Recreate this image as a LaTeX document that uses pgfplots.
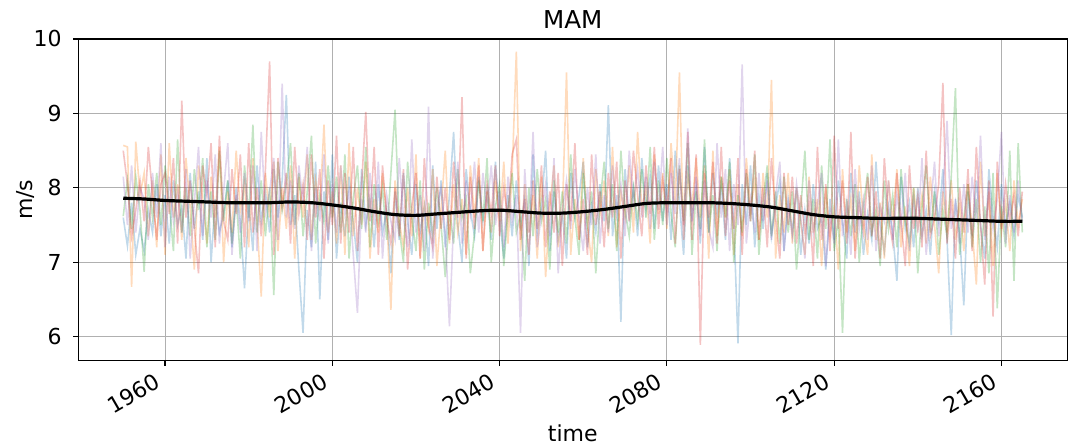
\documentclass[border=0pt]{standalone}
\usepackage{fontspec}
\setmainfont{DejaVu Sans}
\usepackage{pgfplots}
\usepackage{pgfplotstable}
\pgfplotsset{compat=1.18}

\definecolor{c0}{HTML}{1F77B4}
\definecolor{c1}{HTML}{FF7F0E}
\definecolor{c2}{HTML}{2CA02C}
\definecolor{c3}{HTML}{D62728}
\definecolor{c4}{HTML}{9467BD}
\definecolor{gridgray}{HTML}{B0B0B0}

% MAM mean wind speed (m/s) for five ensemble members
\pgfplotstableread{
year b o g r p
1950 7.60 8.57 7.62 8.50 8.15
1951 7.22 8.55 8.10 8.05 7.50
1952 7.80 6.67 7.45 7.35 8.30
1953 7.10 8.62 8.15 7.70 7.40
1954 7.45 7.90 7.70 8.10 8.00
1955 7.15 8.20 6.87 7.55 7.85
1956 7.70 7.35 8.05 8.55 7.30
1957 7.40 8.10 7.60 7.90 8.20
1958 8.05 7.20 8.20 7.30 7.60
1959 7.35 8.45 7.50 8.05 8.60
1960 7.90 7.10 8.30 8.20 7.20
1961 7.25 8.60 7.80 7.65 8.15
1962 8.10 7.60 7.15 8.40 7.55
1963 7.50 8.05 8.65 7.25 7.95
1964 7.75 7.30 7.40 9.17 7.40
1965 7.05 8.40 8.00 7.60 8.25
1966 8.20 7.75 7.35 8.10 7.05
1967 7.45 6.90 8.25 7.45 7.80
1968 7.95 8.30 7.70 6.85 8.55
1969 7.30 7.85 8.40 8.30 7.35
1970 8.40 7.25 7.20 7.90 8.10
1971 7.00 8.15 7.95 8.60 7.60
1972 7.85 7.60 7.30 7.20 8.45
1973 7.40 8.55 8.50 8.70 7.25
1974 7.65 7.00 7.55 7.55 7.95
1975 8.10 7.95 8.10 7.30 8.60
1976 7.20 7.40 7.25 8.25 7.10
1977 8.00 8.50 7.85 7.65 7.90
1978 7.55 7.70 7.05 8.45 7.40
1979 6.65 8.05 8.30 7.20 8.20
1980 7.80 7.20 7.60 8.60 7.55
1981 7.15 8.40 8.85 7.40 8.30
1982 8.30 7.55 7.40 8.00 7.15
1983 7.55 6.54 8.10 7.35 8.75
1984 7.95 8.20 7.35 8.25 7.65
1985 7.40 7.60 8.00 9.70 7.95
1986 8.25 8.35 6.56 7.10 8.40
1987 7.60 7.15 8.35 8.40 7.30
1988 8.10 8.00 7.70 7.75 9.40
1989 9.25 7.45 8.05 8.20 7.60
1990 7.50 8.30 8.60 7.25 8.10
1991 7.90 7.05 7.50 8.55 7.45
1992 6.90 8.15 8.20 7.65 8.30
1993 6.05 7.60 7.35 8.05 7.80
1994 7.70 8.45 7.95 7.30 8.55
1995 7.20 7.30 8.70 8.45 7.15
1996 8.35 8.10 7.25 7.60 8.00
1997 6.50 7.70 7.90 8.25 7.55
1998 7.95 8.85 7.55 7.05 8.45
1999 7.30 7.40 8.30 8.10 7.25
2000 8.45 7.95 7.60 7.50 8.05
2001 7.05 7.25 8.15 8.70 7.40
2002 7.80 8.30 7.40 7.25 8.30
2003 7.35 7.10 8.45 8.20 7.65
2004 8.15 8.60 7.05 7.40 7.95
2005 7.55 7.35 7.85 8.55 7.10
2006 7.00 8.00 8.30 7.15 6.32
2007 8.25 7.50 7.45 8.05 7.85
2008 7.50 8.35 8.55 9.02 7.40
2009 7.85 7.05 7.20 7.55 8.20
2010 7.20 7.85 8.05 8.55 7.50
2011 8.05 7.40 7.55 7.10 8.35
2012 7.40 8.20 8.00 8.30 7.05
2013 7.70 7.65 7.30 7.60 7.90
2014 6.85 6.36 8.20 7.25 7.55
2015 7.95 8.10 9.05 8.00 7.30
2016 7.30 7.55 7.45 7.35 8.40
2017 8.20 7.20 7.00 8.25 7.60
2018 7.55 8.00 8.35 6.90 7.20
2019 7.10 7.35 7.60 7.75 8.65
2020 8.05 8.45 7.15 8.20 7.40
2021 7.40 7.05 8.10 7.05 7.90
2022 7.75 7.80 6.90 8.40 7.15
2023 6.95 7.45 7.80 7.50 9.09
2024 8.30 8.25 7.35 7.20 7.05
2025 7.45 6.95 8.00 8.15 7.75
2026 8.10 7.70 7.50 7.45 8.00
2027 7.20 8.50 6.80 8.00 7.40
2028 7.90 7.25 7.70 7.30 6.14
2029 8.75 8.05 7.25 8.35 7.55
2030 7.50 7.40 8.25 7.60 8.35
2031 7.00 7.85 7.60 9.22 7.25
2032 8.25 7.10 7.85 7.05 8.10
2033 7.70 8.30 6.85 8.15 7.65
2034 7.35 7.60 7.40 7.45 8.35
2035 8.15 8.40 8.10 8.30 7.40
2036 7.55 7.15 7.55 7.15 8.20
2037 7.95 7.95 8.40 8.05 7.70
2038 7.30 7.40 7.00 7.65 8.30
2039 8.35 8.10 7.75 8.30 7.50
2040 7.60 7.55 8.05 7.35 7.95
2041 7.05 8.35 6.95 8.00 7.20
2042 7.90 7.25 7.70 7.60 8.15
2043 7.35 8.20 8.20 8.45 7.55
2044 8.10 9.83 7.40 8.65 7.90
2045 7.50 7.15 7.65 7.30 6.05
2046 7.85 8.05 6.75 7.85 8.25
2047 6.95 7.40 8.00 7.10 7.40
2048 8.45 7.90 7.35 8.10 8.75
2049 7.40 7.05 8.25 7.45 7.20
2050 7.75 8.15 7.55 8.30 7.65
2051 8.50 6.80 7.85 7.20 8.05
2052 7.15 7.75 6.90 7.95 7.35
2053 7.95 8.30 8.10 7.40 8.40
2054 7.30 7.20 7.40 8.20 6.85
2055 7.65 7.65 7.95 6.95 7.70
2056 7.05 9.55 7.25 8.05 8.10
2057 8.20 7.10 8.45 7.55 7.45
2058 7.60 7.85 7.60 8.60 8.25
2059 7.90 7.30 7.10 7.30 7.60
2060 8.35 8.40 8.20 7.85 7.15
2061 7.20 7.50 7.50 7.10 8.00
2062 7.75 7.00 7.95 8.45 7.50
2063 7.40 8.25 6.85 7.50 8.45
2064 8.05 7.65 7.80 7.95 7.25
2065 7.55 8.10 8.35 7.20 7.90
2066 9.11 7.35 7.45 8.20 7.40
2067 7.35 8.55 8.05 7.60 8.30
2068 7.90 7.20 7.15 8.35 7.65
2069 6.20 7.95 8.50 7.05 8.05
2070 8.25 7.60 7.70 8.10 7.35
2071 7.60 8.30 7.35 7.55 8.50
2072 8.00 7.40 8.00 8.50 7.80
2073 7.35 8.75 7.55 7.90 8.25
2074 8.40 7.70 8.25 7.35 7.60
2075 7.70 8.00 7.60 8.30 8.15
2076 8.15 7.25 8.55 7.65 7.45
2077 7.45 8.45 7.30 8.55 8.35
2078 8.30 7.65 8.10 7.45 7.70
2079 7.55 8.20 7.50 8.10 8.55
2080 8.05 7.45 8.40 7.70 7.50
2081 7.30 8.60 7.65 8.40 8.20
2082 8.50 7.80 7.20 7.25 7.65
2083 7.80 9.55 8.30 8.25 8.40
2084 7.10 7.30 7.55 7.50 7.30
2085 8.30 8.15 8.60 8.75 8.80
2086 7.60 7.75 7.10 7.30 7.55
2087 8.00 8.40 7.95 8.45 8.15
2088 7.25 7.60 7.45 5.89 7.35
2089 8.55 8.30 8.65 8.20 8.10
2090 7.40 7.05 7.40 7.60 7.45
2091 8.20 8.50 7.90 8.35 7.20
2092 7.65 7.35 7.15 7.25 8.60
2093 8.05 8.15 8.15 8.55 7.60
2094 7.30 7.60 7.60 7.35 8.25
2095 8.40 8.25 8.35 8.10 7.15
2096 7.55 7.10 7.00 7.45 8.05
2097 5.91 8.05 7.90 8.40 7.50
2098 8.05 7.35 7.40 7.10 9.66
2099 7.50 8.40 8.20 8.25 7.25
2100 8.30 7.70 7.55 7.55 7.85
2101 7.20 8.10 8.45 8.50 7.40
2102 7.90 7.30 7.10 7.30 8.20
2103 7.45 8.20 7.80 8.00 7.55
2104 8.20 7.60 8.30 7.20 8.10
2105 7.35 9.45 7.35 8.40 7.30
2106 7.75 7.05 7.95 7.60 7.90
2107 8.10 7.90 7.25 7.05 8.35
2108 7.15 7.40 8.15 8.20 7.15
2109 7.85 8.20 7.40 7.50 7.80
2110 7.40 7.25 7.95 8.15 7.35
2111 8.00 8.00 6.90 7.25 8.05
2112 7.10 7.55 7.70 7.90 7.60
2113 7.70 7.10 8.50 7.40 7.05
2114 7.25 8.15 7.30 7.80 8.10
2115 8.05 7.40 7.85 6.95 7.40
2116 7.45 7.85 7.05 8.55 7.75
2117 7.60 6.95 8.30 7.30 8.20
2118 6.90 8.00 7.45 8.05 6.95
2119 7.85 7.35 8.65 7.15 7.65
2120 7.30 7.75 7.15 8.70 7.25
2121 8.10 6.90 7.60 7.45 8.65
2122 7.55 8.25 6.05 8.10 7.35
2123 7.05 7.40 7.85 7.25 7.80
2124 8.20 7.85 7.35 8.75 7.10
2125 7.40 7.15 8.05 7.05 8.25
2126 7.95 8.30 7.00 7.80 7.45
2127 7.10 7.55 7.75 7.40 7.85
2128 7.65 7.10 8.20 8.15 7.30
2129 7.30 8.45 7.40 7.35 8.30
2130 8.35 7.30 7.70 7.95 7.15
2131 7.50 7.80 6.95 7.05 7.75
2132 7.15 7.05 8.10 8.40 7.55
2133 7.75 8.10 7.45 7.60 8.10
2134 7.40 7.55 7.90 7.25 7.30
2135 6.75 8.25 7.20 8.20 7.90
2136 8.15 7.20 8.25 7.55 7.50
2137 7.45 7.75 7.55 6.95 8.20
2138 7.80 6.95 7.25 8.30 7.15
2139 7.20 8.00 8.00 7.45 7.85
2140 8.00 7.45 6.85 7.90 7.40
2141 7.35 7.90 7.75 7.20 8.40
2142 7.70 7.25 8.30 8.50 7.10
2143 7.10 8.15 7.40 7.35 7.70
2144 7.95 7.50 7.95 7.60 8.35
2145 7.55 6.85 7.10 8.05 7.35
2146 8.25 7.95 7.70 9.41 7.95
2147 7.30 7.40 7.35 7.25 8.90
2148 6.02 8.10 8.15 7.85 7.45
2149 7.85 7.30 9.34 7.05 7.80
2150 7.40 7.80 7.10 8.00 7.25
2151 6.42 7.15 7.60 7.40 8.05
2152 7.95 8.05 8.05 8.25 7.40
2153 7.35 7.45 7.20 7.15 8.15
2154 8.10 6.70 7.85 8.55 7.55
2155 7.50 8.35 7.00 7.50 8.70
2156 7.05 7.35 7.75 6.70 7.30
2157 8.25 7.95 6.85 8.10 8.00
2158 7.60 6.95 8.20 6.27 7.45
2159 7.20 8.20 6.38 8.35 7.85
2160 8.05 7.40 7.75 7.45 8.75
2161 7.45 7.80 7.20 8.05 7.25
2162 7.80 7.15 8.50 7.55 7.90
2163 7.35 8.10 6.75 7.90 7.40
2164 7.90 7.50 8.60 7.35 8.10
2165 7.60 7.85 7.40 7.95 7.55
}\members

% smoothed ensemble mean
\pgfplotstableread{
year m
1950 7.86
1955 7.85
1960 7.83
1965 7.82
1970 7.81
1975 7.80
1980 7.80
1985 7.80
1990 7.81
1995 7.80
2000 7.77
2005 7.73
2010 7.68
2015 7.64
2020 7.63
2025 7.65
2030 7.67
2035 7.69
2040 7.70
2045 7.68
2050 7.66
2055 7.66
2060 7.68
2065 7.71
2070 7.75
2075 7.79
2080 7.80
2085 7.80
2090 7.80
2095 7.79
2100 7.77
2105 7.74
2110 7.69
2115 7.64
2120 7.61
2125 7.60
2130 7.59
2135 7.59
2140 7.59
2145 7.58
2150 7.57
2155 7.56
2160 7.55
2165 7.55
}\ensmean

\begin{document}
\begin{tikzpicture}
\begin{axis}[
  at={(0,0)}, anchor=south west,
  width=494.5pt, height=160.85pt, scale only axis,
  xmin=1939.25, xmax=2175.75, ymin=5.677, ymax=10,
  xtick={1960,2000,2040,2080,2120,2160},
  ytick={6,7,8,9,10},
  /pgf/number format/1000 sep={},
  /pgf/number format/assume math mode=true,
  tick label style={font=\fontsize{11}{13}\selectfont},
  xticklabel style={xshift=-5.5pt, yshift=-3pt, rotate=30, anchor=north east, inner sep=0pt},
  yticklabel style={anchor=east, inner sep=0pt, xshift=-5.65pt},
  grid=major,
  major grid style={draw=gridgray, line width=0.5pt},
  axis line style={line width=0.6pt},
  tick align=outside, major tick length=2.5pt,
  tick style={black, line width=0.6pt},
  xtick pos=left, ytick pos=left,
  title={MAM},
  every axis title shift=0pt,
  title style={font=\fontsize{12.3}{15}\selectfont, at={(axis description cs:0.5,1.0333)}, anchor=base},
  xlabel={time}, ylabel={m/s},
  xlabel style={font=\fontsize{11}{13}\selectfont, at={(axis description cs:0.5,-0.25)}, anchor=base},
  ylabel style={font=\fontsize{11}{13}\selectfont, at={(axis description cs:-0.0536,0.5)}, anchor=center},
  every axis plot/.append style={line width=0.8pt, opacity=0.28},
]
\addplot[c0] table[x=year, y=b] {\members};
\addplot[c1] table[x=year, y=o] {\members};
\addplot[c2] table[x=year, y=g] {\members};
\addplot[c3] table[x=year, y=r] {\members};
\addplot[c4] table[x=year, y=p] {\members};
\addplot[black, line width=1.6pt, opacity=1, smooth] table[x=year, y=m] {\ensmean};
\end{axis}
\pgfresetboundingbox
\path[use as bounding box] (-39.15pt,-43.65pt) rectangle (502.35pt,180.35pt);
\end{tikzpicture}
\end{document}
